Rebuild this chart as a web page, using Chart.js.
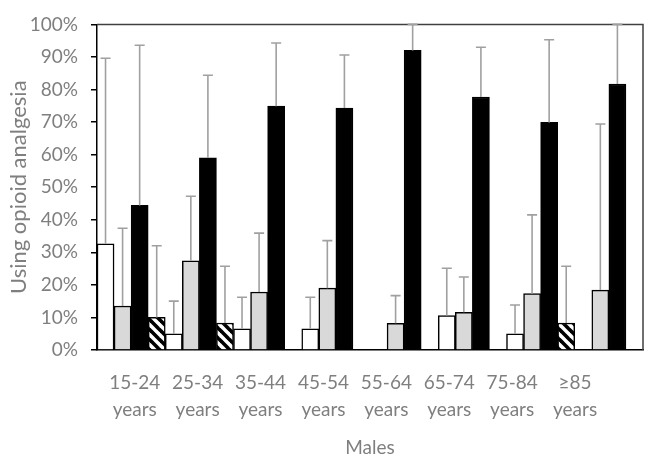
<!DOCTYPE html>
<html>
<head>
<meta charset="utf-8">
<script src="https://cdn.jsdelivr.net/npm/chart.js@4.4.1/dist/chart.umd.min.js"></script>
<style>
    html, body { margin: 0; padding: 0; background: #fff; }
    #wrap { width: 655px; height: 463px; }
</style>
</head>
<body>
<div id="wrap"><canvas id="opioidChart"></canvas></div>
<script>
// Age groups (x axis)
const ageGroups = [
    ['15-24', 'years'], ['25-34', 'years'], ['35-44', 'years'], ['45-54', 'years'],
    ['55-64', 'years'], ['65-74', 'years'], ['75-84', 'years'], ['\u226585', 'years']
];
// Bar heights (%) per series, null = no bar
const whiteValues = [32.6, 5.0, 6.5, 6.5, null, 10.6, 5.0, null];
const grayValues = [13.5, 27.4, 17.8, 19.0, 8.2, 11.6, 17.3, 18.4];
const blackValues = [44.4, 59.0, 74.9, 74.3, 92.0, 77.7, 69.9, 81.7];
const hatchValues = [10.0, 8.3, null, null, null, null, 8.3, null];
// Upper end of the error bars (%)
const whiteUpper = [89.6, 15.0, 16.2, 16.2, null, 25.1, 13.8, null];
const grayUpper = [37.4, 47.2, 35.9, 33.6, 16.7, 22.4, 41.5, 69.4];
const blackUpper = [93.6, 84.4, 94.3, 90.6, 100, 93.0, 95.3, 100];
const hatchUpper = [32.0, 25.7, null, null, null, null, 25.7, null];
// Y axis ticks
const yTicks = [0, 10, 20, 30, 40, 50, 60, 70, 80, 90, 100];

const textGray = '#7f7f7f';

// Diagonal stripe fill for the 4th series
function makeHatch() {
    const s = 10;
    const c = document.createElement('canvas');
    c.width = s;
    c.height = s;
    const g = c.getContext('2d');
    g.fillStyle = '#fff';
    g.fillRect(0, 0, s, s);
    g.strokeStyle = '#000';
    g.lineWidth = 3.6;
    [-s, 0, s].forEach(k => {
        g.beginPath();
        g.moveTo(-1, -1 + k);
        g.lineTo(s + 1, s + 1 + k);
        g.stroke();
    });
    return g.createPattern(c, 'repeat');
}

// Frame on top and right of the plot
const frameLines = {
    id: 'frameLines',
    beforeDatasetsDraw(chart) {
        const { ctx, chartArea: a } = chart;
        ctx.save();
        ctx.strokeStyle = '#404040';
        ctx.lineWidth = 1.5;
        ctx.beginPath();
        ctx.moveTo(a.left, a.top);
        ctx.lineTo(a.right, a.top);
        ctx.lineTo(a.right, a.bottom);
        ctx.stroke();
        ctx.restore();
    }
};

// Upper error bars
const errorBars = {
    id: 'errorBars',
    afterDatasetsDraw(chart) {
        const { ctx } = chart;
        const yScale = chart.scales.y;
        ctx.save();
        ctx.strokeStyle = '#a0a0a0';
        ctx.lineWidth = 1.6;
        chart.data.datasets.forEach((ds, i) => {
            const meta = chart.getDatasetMeta(i);
            ds.upper.forEach((hi, j) => {
                if (hi == null || ds.data[j] == null) return;
                const x = meta.data[j].x;
                const y0 = yScale.getPixelForValue(ds.data[j]);
                const y1 = yScale.getPixelForValue(hi);
                ctx.beginPath();
                ctx.moveTo(x, y0);
                ctx.lineTo(x, y1);
                ctx.moveTo(x - 5, y1);
                ctx.lineTo(x + 5, y1);
                ctx.stroke();
            });
        });
        ctx.restore();
    }
};

function drawChart() {
    const ctx = document.getElementById('opioidChart').getContext('2d');
    new Chart(ctx, {
        type: 'bar',
        data: {
            labels: ageGroups,
            datasets: [
                { data: whiteValues, upper: whiteUpper, backgroundColor: '#ffffff' },
                { data: grayValues, upper: grayUpper, backgroundColor: '#d9d9d9' },
                { data: blackValues, upper: blackUpper, backgroundColor: '#000000' },
                { data: hatchValues, upper: hatchUpper, backgroundColor: makeHatch() }
            ].map(d => Object.assign(d, {
                borderColor: '#000',
                borderWidth: 1.5,
                categoryPercentage: 1,
                barPercentage: 1
            }))
        },
        options: {
            responsive: true,
            maintainAspectRatio: false,
            animation: false,
            layout: { padding: { left: 0, right: 12, top: 16, bottom: 0 } },
            plugins: {
                legend: { display: false },
                tooltip: { enabled: false }
            },
            scales: {
                // bars sit on this one, labels are on 'labels' below
                x: {
                    grid: { display: false },
                    border: { display: true, color: '#000', width: 1.5 },
                    ticks: { display: false },
                    afterFit(scale) { scale.height = 0; }
                },
                // the age labels in the source are spaced a bit tighter than the bar groups
                labels: {
                    type: 'linear',
                    position: 'bottom',
                    bounds: 'data',
                    offset: false,
                    min: -0.6,
                    max: 8.08,
                    afterBuildTicks(scale) { scale.ticks = ageGroups.map((g, i) => ({ value: i })); },
                    grid: { display: false },
                    border: { display: false },
                    ticks: {
                        color: textGray,
                        font: { size: 19, lineHeight: 1.4 },
                        padding: 12,
                        maxRotation: 0,
                        autoSkip: false,
                        callback: v => ageGroups[v]
                    },
                    title: {
                        display: true,
                        text: 'Males',
                        color: textGray,
                        font: { size: 19 },
                        padding: { top: 4, bottom: 4 }
                    },
                    afterFit(scale) { scale.height = 113; }
                },
                y: {
                    min: 0,
                    max: 100,
                    afterBuildTicks(scale) { scale.ticks = yTicks.map(v => ({ value: v })); },
                    grid: { drawOnChartArea: false, drawTicks: true, tickLength: 6, color: '#000', lineWidth: 1.5 },
                    border: { display: true, color: '#000', width: 1.5 },
                    ticks: {
                        color: textGray,
                        font: { size: 19 },
                        padding: 13,
                        callback: v => v + '%'
                    },
                    title: {
                        display: true,
                        text: 'Using opioid analgesia',
                        color: textGray,
                        font: { size: 22 },
                        padding: { top: 6 }
                    },
                    afterFit(scale) { scale.width = 97; }
                }
            }
        },
        plugins: [frameLines, errorBars]
    });
}

Chart.defaults.font.family = 'Lato';
document.fonts.load('19px Lato').then(drawChart, drawChart);
</script>
</body>
</html>
